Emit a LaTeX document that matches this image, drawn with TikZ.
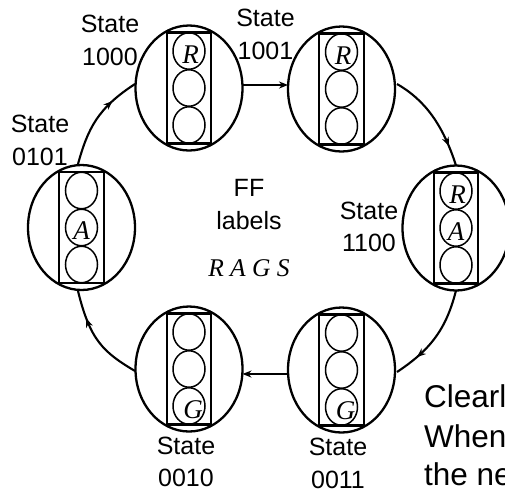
\documentclass[tikz,border=0pt]{standalone}
\usepackage{fontspec}
\setmainfont{Liberation Sans}
\newfontfamily\serifit[Ligatures=TeX]{Liberation Serif}
\usetikzlibrary{shapes.geometric,decorations.markings,arrows.meta}
\tikzset{
  x=1pt,y=-1pt,
  stateshape/.style={draw=black,ellipse,line width=2.3pt,minimum width=107pt,minimum height=125pt,inner sep=0pt,outer sep=0pt},
  framebox/.style={draw=black,rectangle,line width=2.1pt,minimum width=44.5pt,minimum height=111pt,inner sep=0pt,outer sep=0pt},
  lamp/.style={draw=black,ellipse,line width=1.5pt,minimum width=32pt,minimum height=36.5pt,inner sep=0pt,outer sep=0pt},
  lampletter/.style={font=\serifit\itshape\fontsize{27}{27}\selectfont,inner sep=0pt},
  lbl/.style={font=\fontsize{25}{32.5}\selectfont,align=center,inner sep=0pt,anchor=base},
  big/.style={font=\fontsize{31.5}{38}\selectfont,anchor=base west,inner sep=0pt},
  conn/.style={line width=2.1pt,draw=black},
  midarrow/.style={postaction={decorate},decoration={markings,mark=at position #1 with {\arrow{Stealth[length=9pt,width=7pt]}}}},
  tip/.style={-{Stealth[length=9pt,width=7pt]}}
}
\newcommand{\trafficstate}[2]{%
  \node[stateshape] (#1) at #2 {};
  \node[framebox] (#1f) at (#1.center) {};
  \node[lamp] (#1a) at ([yshift=37pt]#1.center) {};
  \node[lamp] (#1b) at (#1.center) {};
  \node[lamp] (#1c) at ([yshift=-37pt]#1.center) {};
}
\newcommand{\lampmark}[3]{\node[lampletter] (#1x) at ([xshift=#3,yshift=-3.5pt]#1.center) {#2};}
\begin{document}
\begin{tikzpicture}
\clip (0,0) rectangle (505,491);
\trafficstate{sA}{(189,88)}
\trafficstate{sB}{(341.5,89)}
\trafficstate{sC}{(456,228)}
\trafficstate{sD}{(341.5,370)}
\trafficstate{sE}{(189,369)}
\trafficstate{sF}{(81.5,227.5)}
\lampmark{sAa}{R}{1.5pt}
\lampmark{sBa}{R}{1.5pt}
\lampmark{sCa}{R}{1.5pt}
\lampmark{sCb}{A}{0pt}
\lampmark{sFb}{A}{0pt}
\lampmark{sDc}{G}{4pt}
\lampmark{sEc}{G}{4pt}
\draw[conn,tip] (sA.east |- 0,85) -- (sB.west |- 0,85);
\draw[conn,midarrow=0.8] (397,84) .. controls (425,100) and (443,125) .. (sC.north);
\draw[conn,midarrow=0.76] (sC.south) .. controls (446,330) and (430,350) .. (397,372);
\draw[conn,tip] (sD.west |- 0,374) -- (sE.east |- 0,374);
\draw[conn,midarrow=0.72] (135,371) .. controls (103,352) and (90,340) .. (78,291);
\draw[conn,midarrow=0.72] (78,164) .. controls (88,128) and (98,108) .. (135,84);
\node[lbl] (t1) at (110,65) {State\\1000};
\node[lbl] (t2) at (265.5,59) {State\\1001};
\node[lbl] (t3) at (40,165) {State\\0101};
\node[lbl] (t4) at (369,251.7) {State\\1100};
\node[lbl] (t5) at (186,486.7) {State\\0010};
\node[lbl] (t6) at (338,488) {State\\0011};
\node[lbl] (t7) at (249,229) {FF\\labels};
\node[font=\serifit\itshape\fontsize{25.5}{25.5}\selectfont,inner sep=0pt,anchor=base] (t8) at (249,276) {R A G S};
\node[big] (c1) at (424,407.7) {Clearl};
\node[big] (c2) at (424,447) {When};
\node[big] (c3) at (424,485) {the ne};
\end{tikzpicture}
\end{document}
